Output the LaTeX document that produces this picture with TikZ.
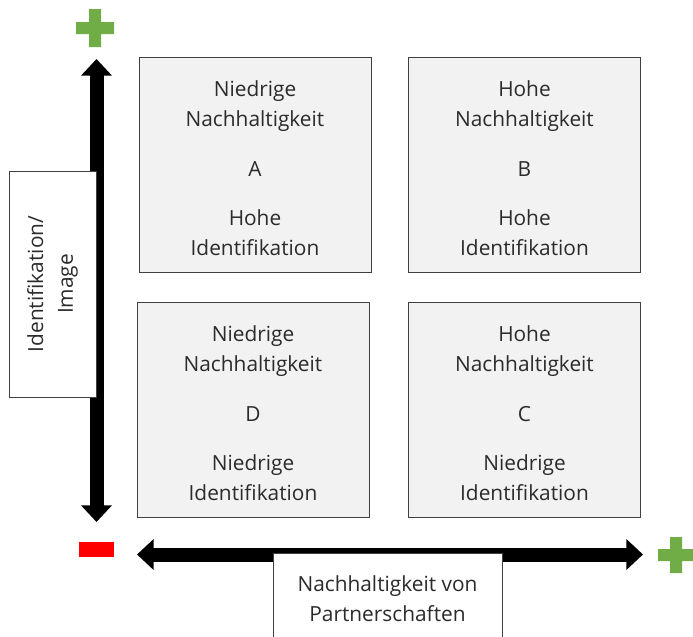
\documentclass[tikz,border=0pt]{standalone}
\usepackage{fontspec}
\setmainfont{Open Sans}
\usetikzlibrary{arrows.meta,positioning}
\definecolor{boxgray}{HTML}{F2F2F2}
\definecolor{textgray}{HTML}{2B2B2B}
\definecolor{plusgreen}{HTML}{70AD47}
\newcommand{\topline}{\rule{0pt}{20pt}}
\tikzstyle{quadrant}=[rectangle,draw=black!75,fill=boxgray,text=textgray,
  minimum width=6.96cm,minimum height=6.45cm,align=center,
  font=\fontsize{17.8}{25.5}\selectfont]
\tikzstyle{axislabel}=[rectangle,draw=black!75,fill=white,text=textgray,
  align=center,font=\fontsize{17.8}{25.5}\selectfont]
\tikzstyle{axis}=[line width=0.42cm,
  {Triangle[length=0.5cm,width=0.9cm]}-{Triangle[length=0.5cm,width=0.9cm]}]

\begin{document}
\begin{tikzpicture}[x=0.03cm,y=-0.03cm]
  \useasboundingbox (0,0) rectangle (693,636);

  % axes
  \coordinate (ytop) at (96.5,59);
  \coordinate (ybot) at (96.5,522);
  \coordinate (xleft) at (137,554.5);
  \coordinate (xright) at (643,554.5);
  \draw[axis] (ytop) -- (ybot);
  \draw[axis] (xleft) -- (xright);

  % quadrants
  \node[quadrant] (A) at (255,164.5) {\topline Niedrige\\Nachhaltigkeit\\[17pt]A\\[17pt]Hohe\\Identifikation};
  \node[quadrant] (B) at (524.5,164.5) {\topline Hohe\\Nachhaltigkeit\\[17pt]B\\[17pt]Hohe\\Identifikation};
  \node[quadrant] (D) at (253,409.5) {\topline Niedrige\\Nachhaltigkeit\\[17pt]D\\[17pt]Niedrige\\Identifikation};
  \node[quadrant] (C) at (524.5,409.5) {\topline Hohe\\Nachhaltigkeit\\[17pt]C\\[17pt]Niedrige\\Identifikation};

  % axis labels
  \node[axislabel,rotate=90,minimum width=6.78cm,minimum height=2.61cm] (ylabel) at (52.5,284) {Identifikation/\\Image};
  \node[axislabel,minimum width=6.87cm,minimum height=2.76cm] (xlabel) at (387.5,599) {Nachhaltigkeit von\\Partnerschaften};

  % signs
  \fill[plusgreen] (76,22) rectangle (114,34) (89,9) rectangle (101,47);
  \fill[plusgreen] (658,549) rectangle (694,561) (670,537) rectangle (682,573);
  \fill[red] (79,542) rectangle (114,557);
\end{tikzpicture}
\end{document}
